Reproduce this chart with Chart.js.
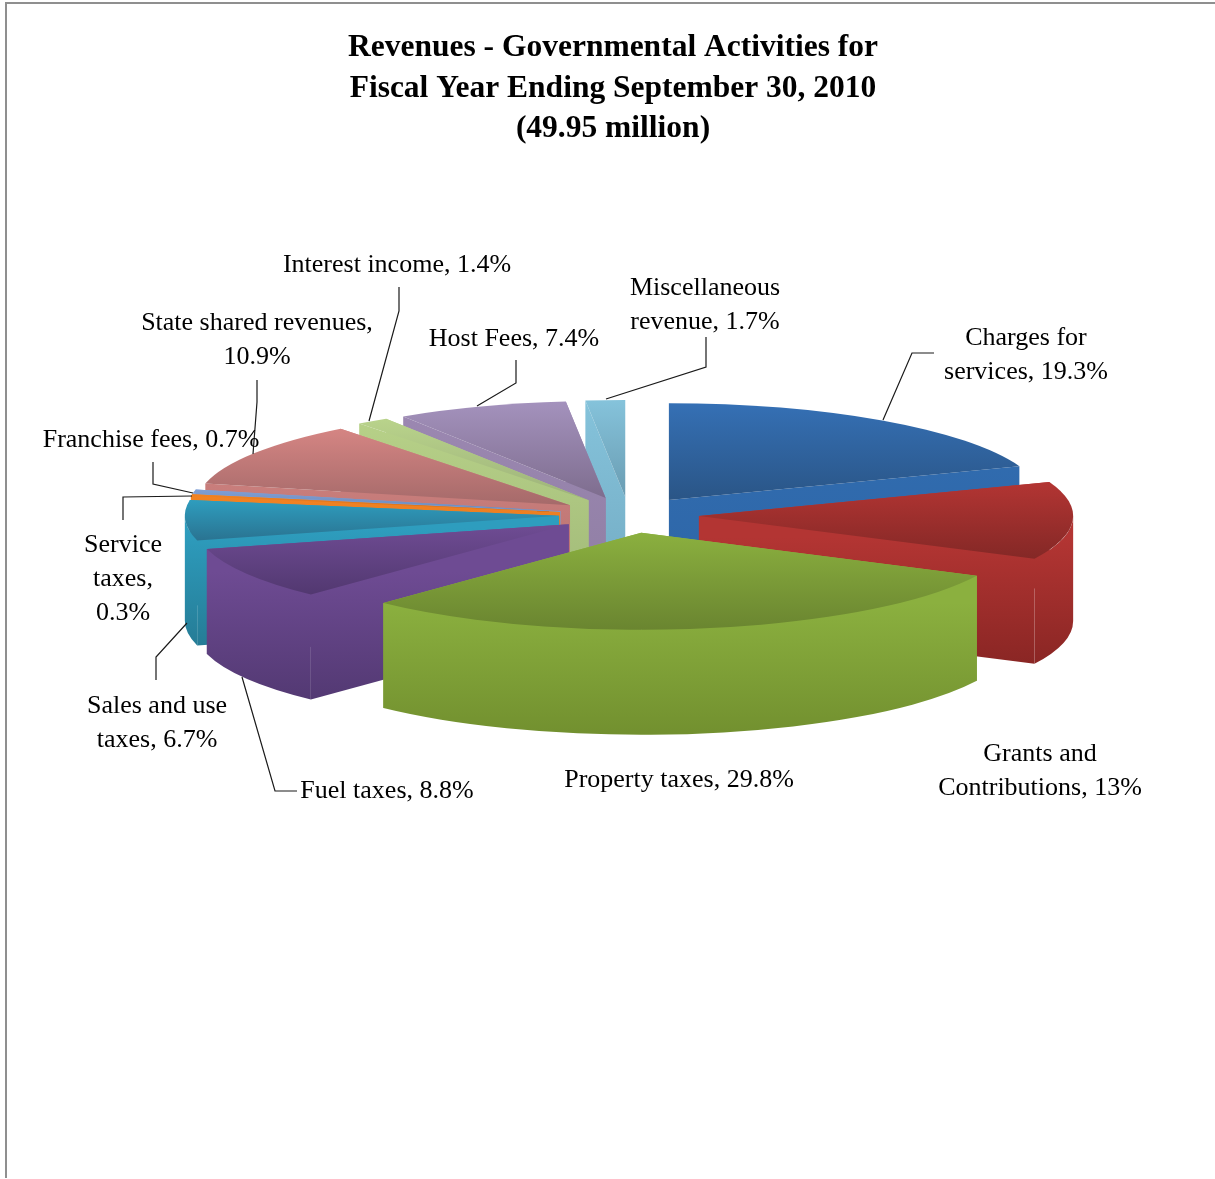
<!DOCTYPE html>
<html>
<head>
<meta charset="utf-8">
<title>Revenues - Governmental Activities</title>
<script src="https://cdn.jsdelivr.net/npm/chart.js@4"></script>
<style>
  html, body { margin: 0; padding: 0; background: #fff; overflow: hidden; }
  #wrap { position: relative; width: 1215px; height: 1179px; }
  #frame { position: absolute; left: 5px; top: 2px; right: -4px; bottom: 1px;
           border-left: 2px solid #8f8f8f; border-top: 2px solid #8f8f8f; }
  canvas { position: absolute; left: 0; top: 0; }
</style>
</head>
<body>
<div id="wrap">
  <div id="frame"></div>
  <canvas id="revenues" width="1215" height="1179"></canvas>
</div>
<script>
const titleLines = [
  'Revenues - Governmental Activities for',
  'Fiscal Year Ending September 30, 2010',
  '(49.95 million)'
];

const categories = [
  'Charges for services', 'Grants and Contributions', 'Property taxes', 'Fuel taxes',
  'Sales and use taxes', 'Service taxes', 'Franchise fees', 'State shared revenues',
  'Interest income', 'Host Fees', 'Miscellaneous revenue'
];
const values = [19.3, 13, 29.8, 8.8, 6.7, 0.3, 0.7, 10.9, 1.4, 7.4, 1.7];

// words on each line of a slice label
const labelWrap = [[2, 2], [2, 2], [3], [3], [3, 2], [1, 1, 1], [3], [3, 1], [3], [3], [1, 2]];

// centre x and first baseline of each label
const labelAnchors = [
  [1026, 345], [1040, 761], [679, 787], [387, 798], [157, 713], [123, 552],
  [151, 447], [257, 330], [397, 272], [514, 346], [705, 295]
];

// leader polylines, label end first
const leaderLines = [
  [[934, 353], [912, 353], [883, 420]],
  null,
  null,
  [[297, 791], [275, 791], [242, 677]],
  [[156, 680], [156, 657], [187, 623]],
  [[123, 520], [123, 497], [192, 496]],
  [[153, 462], [153, 484], [193, 493]],
  [[257, 380], [257, 402], [253, 454]],
  [[399, 287], [399, 311], [369, 421]],
  [[516, 360], [516, 383], [477, 406]],
  [[706, 337], [706, 367], [606, 399]]
];

// base fill of each slice
const sliceColors = ['#3570b5', '#b33533', '#8bb03f', '#6f4c94', '#2e9dbe', '#f38323',
                     '#7f9fd6', '#d58583', '#b9d38b', '#a492bd', '#85c3db'];
// darker end of the top face gradient
const topShade = ['#2a5586', '#842826', '#6a8530', '#523870', '#2a7391', '#c96a18',
                  '#6c88b6', '#a56a6a', '#9db27a', '#7e6d8e', '#6a9cb2'];
// walls: light end, dark end
const wallLight = ['#326eb2', '#b33533', '#8bb03f', '#6e4b93', '#2e9dbe', '#f38323',
                   '#7f9fd6', '#d48482', '#b7d188', '#9c88b2', '#85c3db'];
const wallDark = ['#2d65a6', '#8a2624', '#72902f', '#533973', '#257c96', '#c96a18',
                  '#6c88b6', '#b06f6d', '#a0b878', '#8f7ea3', '#73abc3'];

const pieCenter = { x: 629, y: 515 };
const tilt = 0.259;     // vertical squash of the pie plane
const depth = 105;      // wall height
const explode = 70;     // slice pull-out, measured in the pie plane

function vGradient(ctx, y0, y1, from, to) {
  const g = ctx.createLinearGradient(0, y0, 0, y1);
  g.addColorStop(0, from);
  g.addColorStop(1, to);
  return g;
}

const pie3d = {
  id: 'pie3d',
  beforeDatasetsDraw(chart) {
    const ctx = chart.ctx;
    const arcs = chart.getDatasetMeta(0).data;

    const slices = arcs.map((arc, i) => {
      const { startAngle: a, endAngle: b, outerRadius: r } = arc.getProps(['startAngle', 'endAngle', 'outerRadius'], true);
      const mid = (a + b) / 2;
      const x = pieCenter.x + Math.cos(mid) * explode;
      const y = pieCenter.y + Math.sin(mid) * explode * tilt;
      return { i, a, b, r, mid, x, y };
    });

    // back slices first, the front ones paint over them
    slices.sort((p, q) => Math.sin(p.mid) - Math.sin(q.mid));

    for (const s of slices) {
      const ry = s.r * tilt;
      const rim = t => [s.x + Math.cos(t) * s.r, s.y + Math.sin(t) * ry];
      const pa = rim(s.a), pb = rim(s.b);

      let topMin = Math.min(s.y, pa[1], pb[1]);
      let topMax = Math.max(s.y, pa[1], pb[1]);
      if (s.a < Math.PI / 2 && s.b > Math.PI / 2) topMax = s.y + ry;
      if (s.a < -Math.PI / 2 + 1e-6 || s.b > 1.5 * Math.PI - 1e-6) topMin = s.y - ry;

      // front part of the rim, if this slice has one
      const w0 = Math.max(s.a, 0), w1 = Math.min(s.b, Math.PI);
      const hasWall = w1 > w0;
      const shadeFrom = hasWall
        ? (Math.min(rim(w0)[1], rim(w1)[1]) + topMax) / 2
        : Math.min(s.y, pa[1], pb[1]);
      ctx.fillStyle = vGradient(ctx, shadeFrom, topMax + depth, wallLight[s.i], wallDark[s.i]);

      // cut faces, the one further back goes first
      const faces = [pa, pb].sort((p, q) => (p[1] - q[1]));
      for (const p of faces) {
        ctx.beginPath();
        ctx.moveTo(s.x, s.y);
        ctx.lineTo(p[0], p[1]);
        ctx.lineTo(p[0], p[1] + depth);
        ctx.lineTo(s.x, s.y + depth);
        ctx.closePath();
        ctx.fill();
      }

      if (hasWall) {
        ctx.beginPath();
        ctx.ellipse(s.x, s.y, s.r, ry, 0, w0, w1, false);
        ctx.ellipse(s.x, s.y + depth, s.r, ry, 0, w1, w0, true);
        ctx.closePath();
        ctx.fill();
      }

      // top face
      ctx.beginPath();
      ctx.moveTo(s.x, s.y);
      ctx.ellipse(s.x, s.y, s.r, ry, 0, s.a, s.b, false);
      ctx.closePath();
      ctx.fillStyle = vGradient(ctx, topMin, topMax, sliceColors[s.i], topShade[s.i]);
      ctx.fill();
    }
    return false;
  },
  afterDraw(chart) {
    const ctx = chart.ctx;
    ctx.save();

    ctx.strokeStyle = '#1a1a1a';
    ctx.lineWidth = 1.2;
    for (const line of leaderLines) {
      if (!line) continue;
      ctx.beginPath();
      line.forEach((p, k) => k ? ctx.lineTo(p[0], p[1]) : ctx.moveTo(p[0], p[1]));
      ctx.stroke();
    }

    ctx.fillStyle = '#000';
    ctx.font = '26px "Liberation Serif"';
    ctx.textAlign = 'center';
    ctx.textBaseline = 'alphabetic';
    categories.forEach((name, i) => {
      const words = `${name}, ${values[i]}%`.split(' ');
      let y = labelAnchors[i][1];
      for (const count of labelWrap[i]) {
        ctx.fillText(words.splice(0, count).join(' '), labelAnchors[i][0], y);
        y += 34;
      }
    });
    ctx.restore();
  }
};

new Chart(document.getElementById('revenues'), {
  type: 'pie',
  data: {
    labels: categories,
    datasets: [{ data: values, backgroundColor: sliceColors, borderWidth: 0 }]
  },
  plugins: [pie3d],
  options: {
    responsive: false,
    animation: false,
    layout: { padding: { left: 11, top: 28, right: 0, bottom: 281 } },
    plugins: {
      legend: { display: false },
      tooltip: { enabled: false },
      title: {
        display: true,
        text: titleLines,
        color: '#000',
        padding: 0,
        font: { family: '"Liberation Serif"', size: 31.5, weight: 'bold', lineHeight: 1.286 }
      }
    }
  }
});
</script>
</body>
</html>
